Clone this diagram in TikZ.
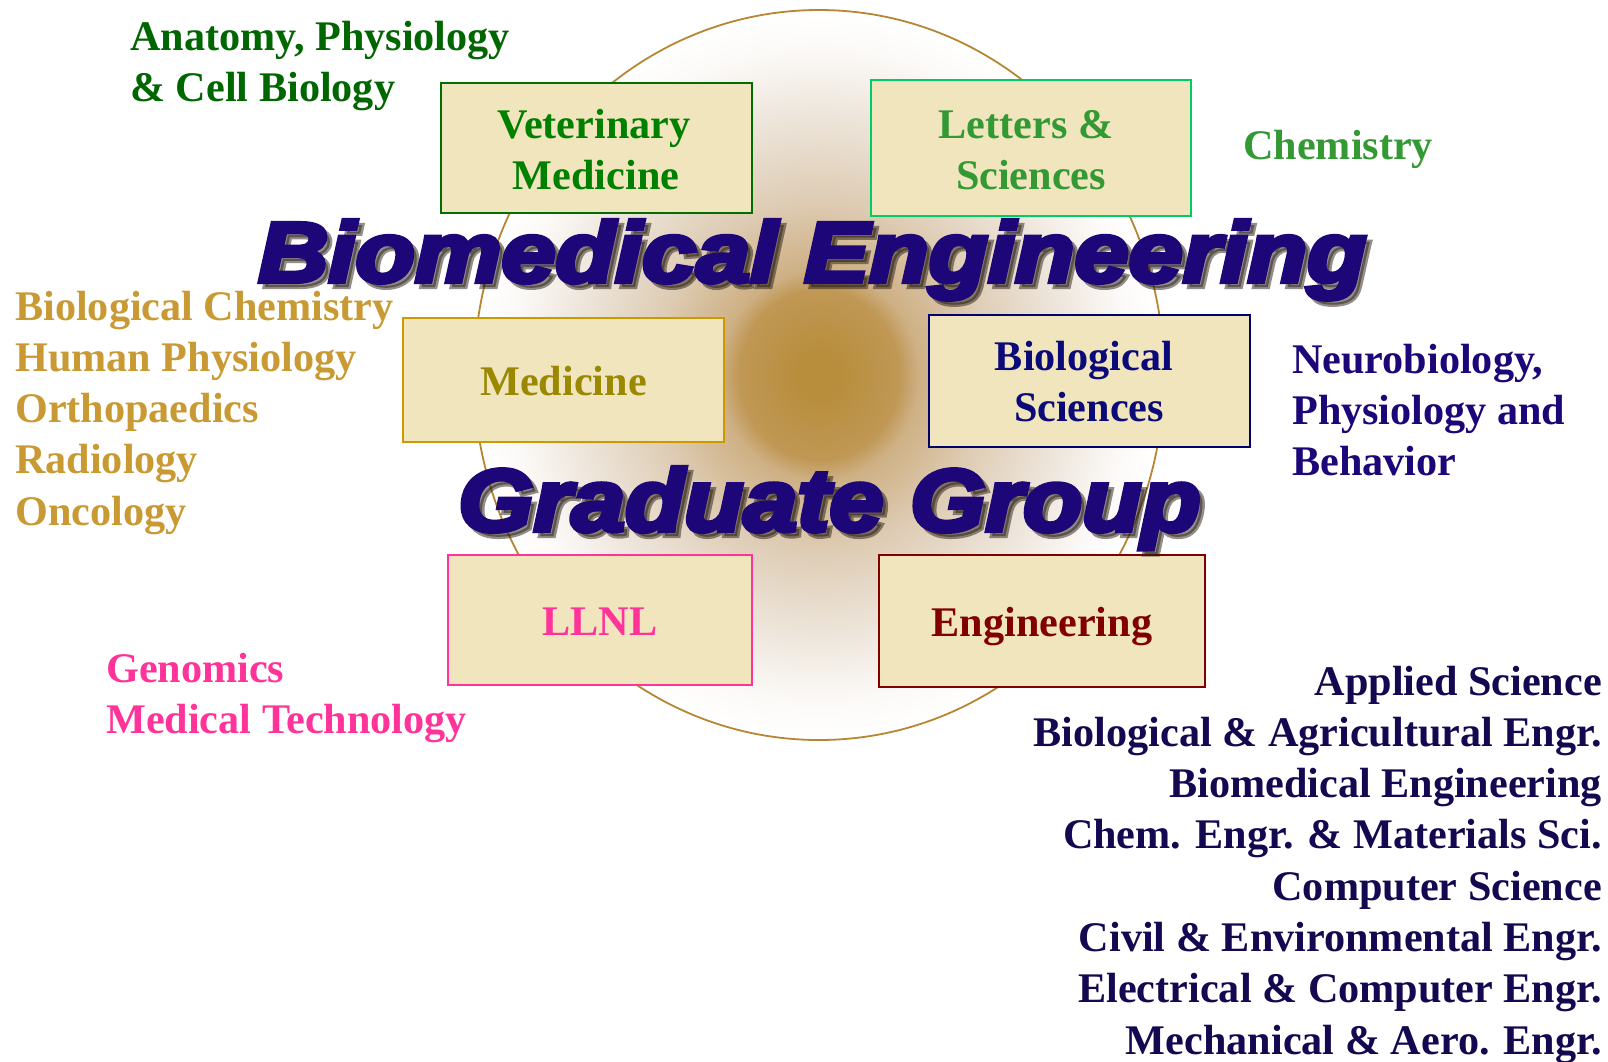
\documentclass[tikz,border=0pt]{standalone}
\usepackage{fontspec}
\usepackage{graphicx}
\setmainfont{Liberation Serif}
\newfontfamily\titlefont{Liberation Sans}[BoldItalicFeatures={FakeBold=5}]
\definecolor{boxfill}{RGB}{241,229,190}
\definecolor{circ}{RGB}{184,134,51}
\definecolor{titlecol}{RGB}{28,6,120}
\definecolor{anat}{RGB}{0,102,0}
\definecolor{vetc}{RGB}{0,128,0}
\definecolor{vetb}{RGB}{0,110,0}
\definecolor{lsc}{RGB}{51,153,51}
\definecolor{lsb}{RGB}{0,204,102}
\definecolor{goldt}{RGB}{201,154,51}
\definecolor{medt}{RGB}{153,136,0}
\definecolor{medb}{RGB}{204,153,0}
\definecolor{biot}{RGB}{10,10,120}
\definecolor{biob}{RGB}{0,0,110}
\definecolor{neuro}{RGB}{28,6,120}
\definecolor{pinkc}{RGB}{255,51,153}
\definecolor{engc}{RGB}{128,0,0}
\definecolor{rightc}{RGB}{20,8,80}
\definecolor{shadowc}{RGB}{40,30,20}
\definecolor{g0}{RGB}{184,141,60}
\definecolor{g1}{RGB}{192,152,85}
\definecolor{g2}{RGB}{206,176,132}
\definecolor{g3}{RGB}{222,204,180}
\definecolor{g4}{RGB}{238,230,220}
\definecolor{g5}{RGB}{252,250,248}
\pgfdeclareradialshading{glow}{\pgfpoint{0bp}{0bp}}{color(0bp)=(g0); color(1.5bp)=(g0); color(5.8bp)=(g1); color(7.2bp)=(g2); color(12bp)=(g3); color(18bp)=(g4); color(22.5bp)=(g5); color(25bp)=(white); color(50bp)=(white)}
\begin{document}
\begin{tikzpicture}[x=1pt,y=-1pt,
  box/.style={rectangle, fill=boxfill, line width=2pt, inner sep=0pt},
  lbl/.style={inner sep=0pt, font=\fontsize{42.2}{51}\selectfont\bfseries},
  ttl/.style={inner sep=0pt, anchor=base west, font=\titlefont\bfseries\itshape}]
\useasboundingbox (0,0) rectangle (1608,1061);
\fill[white] (0,0) rectangle (1608,1061);
% glow and ring
\coordinate (ctr) at (819,375);
\shade[shading=glow] (ctr) ellipse [x radius=345, y radius=365];
\draw[circ, line width=1.8pt] (ctr) ellipse [x radius=345, y radius=365];
% boxes
\node[box, draw=vetb, minimum width=311pt, minimum height=130pt] (vet) at (596.5,148) {};
\node[box, draw=lsb, minimum width=320pt, minimum height=136pt] (ls) at (1031,148) {};
\node[box, draw=medb, minimum width=321pt, minimum height=124pt] (med) at (563.5,380) {};
\node[box, draw=biob, minimum width=321pt, minimum height=132pt] (bio) at (1089.5,381) {};
\node[box, draw=pinkc, minimum width=304pt, minimum height=130pt] (llnl) at (600,620) {};
\node[box, draw=engc, minimum width=326pt, minimum height=132pt] (eng) at (1042,621) {};
% box labels
\node[lbl, text=vetc, anchor=base] (vet1) at (594,138) {Veterinary};
\node[lbl, text=vetc, anchor=base] (vet2) at (596,189) {Medicine};
\node[lbl, text=lsc, anchor=base] (ls1) at (1026,138) {Letters \&};
\node[lbl, text=lsc, anchor=base] (ls2) at (1031,189) {Sciences};
\node[lbl, text=medt, anchor=base] (med1) at (563.5,395) {Medicine};
\node[lbl, text=biot, anchor=base] (bio1) at (1084,370) {Biological};
\node[lbl, text=biot, anchor=base] (bio2) at (1089,421) {Sciences};
\node[lbl, text=pinkc, anchor=base] (llnl1) at (600,635) {LLNL};
\node[lbl, text=engc, anchor=base] (eng1) at (1042,636) {Engineering};
% title shadows
\node[ttl, text=shadowc, opacity=0.5] (ts) at (263,287) {\resizebox{1108pt}{62pt}{Biomedical Engineering}};
\node[ttl, text=shadowc, opacity=0.5] (gs) at (463,536) {\resizebox{742pt}{64pt}{Graduate Group}};
\node[ttl, text=titlecol] (title1) at (258,282) {\resizebox{1108pt}{62pt}{Biomedical Engineering}};
\node[ttl, text=titlecol] (title2) at (458,531) {\resizebox{742pt}{64pt}{Graduate Group}};
% side lists
\foreach \t [count=\i from 0] in {{Anatomy, Physiology},{\& Cell Biology}}
  \node[lbl, text=anat, anchor=base west] (an\i) at (130,50+51*\i) {\t};
\foreach \t [count=\i from 0] in {Biological Chemistry,Human Physiology,Orthopaedics,Radiology,Oncology}
  \node[lbl, text=goldt, anchor=base west] (gl\i) at (15,320+51.3*\i) {\t};
\foreach \t [count=\i from 0] in {Genomics,Medical Technology}
  \node[lbl, text=pinkc, anchor=base west] (ge\i) at (106,682+51*\i) {\t};
\node[lbl, text=lsc, anchor=base west] (chem) at (1243,159) {Chemistry};
\foreach \t [count=\i from 0] in {{Neurobiology,},Physiology and,Behavior}
  \node[lbl, text=neuro, anchor=base west] (ne\i) at (1292,373+51*\i) {\t};
\foreach \t [count=\i from 0] in {Applied Science,Biological \& Agricultural Engr.,Biomedical Engineering,Chem. Engr. \& Materials Sci.,Computer Science,Civil \& Environmental Engr.,Electrical \& Computer Engr.,Mechanical \& Aero. Engr.}
  \node[lbl, text=rightc, anchor=base east] (rl\i) at (1602,695+51.3*\i) {\t};
\end{tikzpicture}
\end{document}
